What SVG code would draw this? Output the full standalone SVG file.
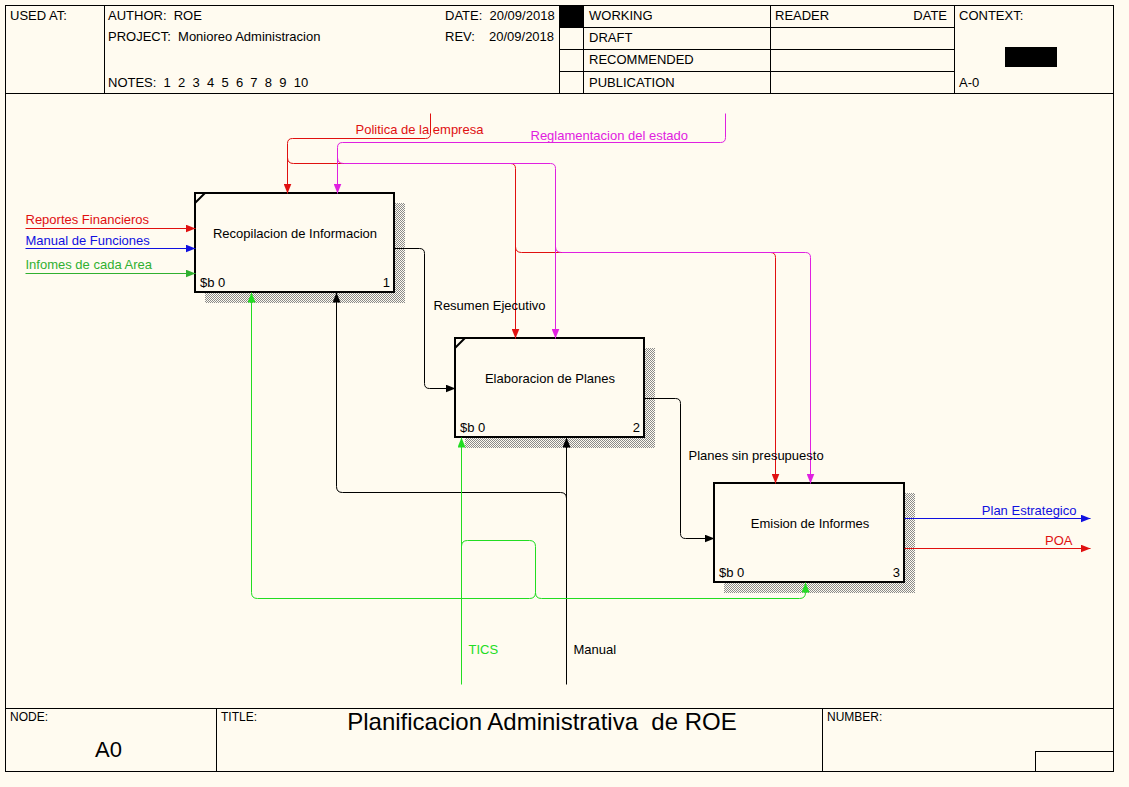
<svg xmlns="http://www.w3.org/2000/svg" width="1129" height="787" viewBox="0 0 1129 787">
<style>
text{font-family:"Liberation Sans",Arial,sans-serif;font-size:13px;fill:#000;white-space:pre}
.frame{fill:none;stroke:#000;stroke-width:1}
.box{fill:#fffbf0;stroke:#000;stroke-width:2}
.sh{fill:url(#hatch)}
.c{fill:none;stroke-width:1}
.r{stroke:#e01010}.m{stroke:#e020e0}.k{stroke:#000}.b{stroke:#1010e0}.g{stroke:#22dd22}.dg{stroke:#30b030}
.tr{fill:#e01010}.tm{fill:#e020e0}.tb{fill:#1010e0}.tg{fill:#22dd22}.tdg{fill:#30b030}
.sm{font-size:12px}
</style>
<defs>
<pattern id="hatch" width="2" height="2" patternUnits="userSpaceOnUse">
<rect width="2" height="2" fill="#fffbf0"/>
<rect width="1" height="1" fill="#8a8a8a"/>
<rect x="1" y="1" width="1" height="1" fill="#8a8a8a"/>
</pattern>
<marker id="ar" markerUnits="userSpaceOnUse" markerWidth="10" markerHeight="8" refX="10" refY="4" orient="auto"><path d="M0,0 L10,4 L0,8 Z" fill="#e01010"/></marker>
<marker id="am" markerUnits="userSpaceOnUse" markerWidth="10" markerHeight="8" refX="10" refY="4" orient="auto"><path d="M0,0 L10,4 L0,8 Z" fill="#e020e0"/></marker>
<marker id="ak" markerUnits="userSpaceOnUse" markerWidth="10" markerHeight="8" refX="10" refY="4" orient="auto"><path d="M0,0 L10,4 L0,8 Z" fill="#000"/></marker>
<marker id="ab" markerUnits="userSpaceOnUse" markerWidth="10" markerHeight="8" refX="10" refY="4" orient="auto"><path d="M0,0 L10,4 L0,8 Z" fill="#1010e0"/></marker>
<marker id="ag" markerUnits="userSpaceOnUse" markerWidth="10" markerHeight="8" refX="10" refY="4" orient="auto"><path d="M0,0 L10,4 L0,8 Z" fill="#22dd22"/></marker>
<marker id="adg" markerUnits="userSpaceOnUse" markerWidth="10" markerHeight="8" refX="10" refY="4" orient="auto"><path d="M0,0 L10,4 L0,8 Z" fill="#30b030"/></marker>
</defs>
<rect width="1129" height="787" fill="#fffbf0"/>

<g id="frame">
<rect class="frame" x="5.5" y="5.5" width="1108" height="766"/>
<path class="frame" d="M5,93.5 H1113 M104.5,5 V93 M559.5,5 V93 M583.5,5 V93 M770.5,5 V93 M954.5,5 V93 M560,27.5 H955 M560,49.5 H955 M560,71.5 H955"/>
<rect x="560" y="6" width="23" height="21" fill="#000"/>
<rect x="1005" y="47" width="52" height="20" fill="#000"/>
<path class="frame" d="M5,708.5 H1113 M216.5,708 V771 M822.5,708 V771 M1035.5,751 V771 M1035,751.5 H1113"/>
<text x="10" y="20">USED AT:</text>
<text x="108" y="20">AUTHOR:  ROE</text>
<text x="108" y="41">PROJECT:  Monioreo Administracion</text>
<text x="108" y="87">NOTES:  1  2  3  4  5  6  7  8  9  10</text>
<text x="445" y="20">DATE:  20/09/2018</text>
<text x="445" y="41">REV:</text>
<text x="489" y="41">20/09/2018</text>
<text x="589" y="20">WORKING</text>
<text x="589" y="42">DRAFT</text>
<text x="589" y="64">RECOMMENDED</text>
<text x="589" y="87">PUBLICATION</text>
<text x="775" y="20">READER</text>
<text x="947" y="20" text-anchor="end">DATE</text>
<text x="959" y="20">CONTEXT:</text>
<text x="959" y="87">A-0</text>
<text class="sm" x="10" y="721">NODE:</text>
<text x="95" y="757" style="font-size:22px">A0</text>
<text class="sm" x="221" y="721">TITLE:</text>
<text x="542" y="730" text-anchor="middle" style="font-size:24px">Planificacion Administrativa  de ROE</text>
<text class="sm" x="827" y="721">NUMBER:</text>
</g>

<g id="node1">
<rect class="sh" x="205" y="203" width="200" height="100"/>
<rect class="box" x="195" y="193" width="199" height="99"/>
<path d="M195,203 L205,193" stroke="#000" stroke-width="2"/>
<text x="295" y="238" text-anchor="middle">Recopilacion de Informacion</text>
<text x="200" y="287">$b 0</text>
<text x="390" y="287" text-anchor="end">1</text>
</g>

<g id="node2">
<rect class="sh" x="465" y="348" width="190" height="100"/>
<rect class="box" x="455" y="338" width="189" height="99"/>
<path d="M455,348 L465,338" stroke="#000" stroke-width="2"/>
<text x="550" y="383" text-anchor="middle">Elaboracion de Planes</text>
<text x="460" y="432">$b 0</text>
<text x="640" y="432" text-anchor="end">2</text>
</g>

<g id="node3">
<rect class="sh" x="724" y="493" width="191" height="100"/>
<rect class="box" x="714" y="483" width="190" height="99"/>
<text x="810" y="528" text-anchor="middle">Emision de Informes</text>
<text x="719" y="577">$b 0</text>
<text x="900" y="577" text-anchor="end">3</text>
</g>

<g id="connectors" transform="translate(0.5,0.5)">
<path class="c r" d="M430,113 V133 Q430,138 425,138 H292 Q287,138 287,143 V193" marker-end="url(#ar)"/>
<path class="c r" d="M287,157 Q287,163 293,163 H510 Q515,163 515,168 V338" marker-end="url(#ar)"/>
<path class="c r" d="M515,246 Q515,252 521,252 H770 Q775,252 775,257 V483" marker-end="url(#ar)"/>
<path class="c m" d="M725,113 V137 Q725,142 720,142 H342 Q337,142 337,147 V193" marker-end="url(#am)"/>
<path class="c m" d="M337,157 Q337,163 343,163 H550 Q555,163 555,168 V338" marker-end="url(#am)"/>
<path class="c m" d="M555,246 Q555,252 561,252 H805 Q810,252 810,257 V483" marker-end="url(#am)"/>
<path class="c r" d="M25,228 H195" marker-end="url(#ar)"/>
<path class="c b" d="M25,248 H195" marker-end="url(#ab)"/>
<path class="c dg" d="M25,273 H195" marker-end="url(#adg)"/>
<path class="c k" d="M394,248 H419 Q424,248 424,253 V383 Q424,388 429,388 H455" marker-end="url(#ak)"/>
<path class="c k" d="M644,398 H675 Q680,398 680,403 V533 Q680,538 685,538 H714" marker-end="url(#ak)"/>
<path class="c b" d="M904,518 H1090" marker-end="url(#ab)"/>
<path class="c r" d="M904,548 H1090" marker-end="url(#ar)"/>
<path class="c k" d="M566,684 V437" marker-end="url(#ak)"/>
<path class="c k" d="M566,498 Q566,492 560,492 H342 Q336,492 336,486 V292" marker-end="url(#ak)"/>
<path class="c g" d="M461,684 V437" marker-end="url(#ag)"/>
<path class="c g" d="M461,546 Q461,540 467,540 H529 Q535,540 535,546 V592 Q535,598 541,598 H799 Q805,598 805,592 V582" marker-end="url(#ag)"/>
<path class="c g" d="M535,592 Q535,598 529,598 H257 Q251,598 251,592 V292" marker-end="url(#ag)"/>
<text class="tr" x="355" y="133">Politica de la empresa</text>
<text class="tm" x="530" y="139">Reglamentacion del estado</text>
<text class="tr" x="25" y="223">Reportes Financieros</text>
<text class="tb" x="25" y="244">Manual de Funciones</text>
<text class="tdg" x="25" y="268">Infomes de cada Area</text>
<text x="433" y="309">Resumen Ejecutivo</text>
<text x="688" y="459">Planes sin presupuesto</text>
<text class="tb" x="1076" y="514" text-anchor="end">Plan Estrategico</text>
<text class="tr" x="1072" y="544" text-anchor="end">POA</text>
<text class="tg" x="468" y="653">TICS</text>
<text x="573" y="653">Manual</text>
</g>
</svg>
